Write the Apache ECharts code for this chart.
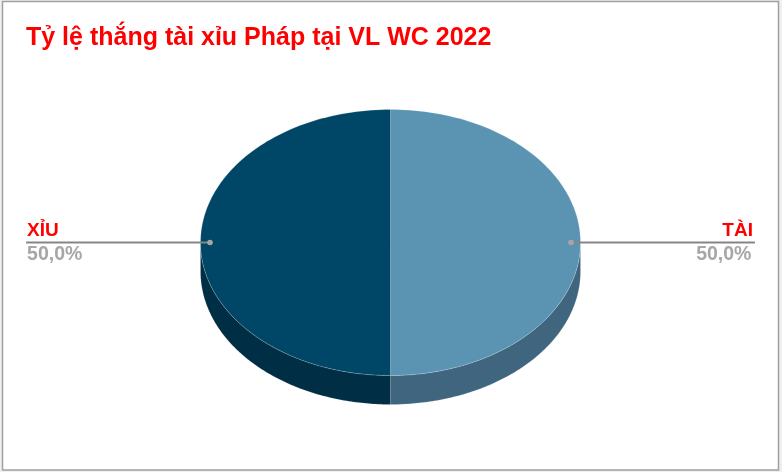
<!DOCTYPE html>
<html><head><meta charset="utf-8">
<style>html,body{margin:0;padding:0;background:#efefef}#c{width:782px;height:472px}</style>
<script src="https://cdn.jsdelivr.net/npm/echarts@6/dist/echarts.min.js"></script>
</head><body><div id="c"></div>
<script>
var titleText = 'Tỷ lệ thắng tài xỉu Pháp tại VL WC 2022';
var categories = ['TÀI', 'XỈU'];
var values = [50, 50];
var valueLabels = ['50,0%', '50,0%'];
var topColors = ['#5b93b2', '#004666'];
var wallColors = ['#40667f', '#002f45'];

var chart = echarts.init(document.getElementById('c'), null, {renderer: 'canvas'});
var total = values.reduce(function (a, b) { return a + b; }, 0);
var DEPTH = 29 / 133, STEPS = 120, RED = '#ff0000', GREY = '#a6a6a6', LINE = '#858585';
var FONT = '"Liberation Sans", Arial, sans-serif';

function rimPoint(api, t, drop) {
  // t: fraction of the circle clockwise from 12 o'clock
  var a = t * 2 * Math.PI;
  return api.coord([Math.sin(a), Math.cos(a) - (drop || 0)]);
}
function renderSlice(params, api) {
  var i = params.dataIndex, start = 0;
  for (var k = 0; k < i; k++) start += values[k] / total;
  var end = start + values[i] / total, mid = (start + end) / 2;
  var children = [];
  // side wall: only the front half of the disc (t in 0.25..0.75) shows
  var ws = Math.max(start, 0.25), we = Math.min(end, 0.75);
  if (we > ws) {
    var wall = [], n;
    for (n = 0; n <= STEPS; n++) wall.push(rimPoint(api, ws + (we - ws) * n / STEPS, 0));
    for (n = STEPS; n >= 0; n--) wall.push(rimPoint(api, ws + (we - ws) * n / STEPS, DEPTH));
    children.push({type: 'polygon', shape: {points: wall},
      style: {fill: wallColors[i], stroke: 'rgba(255,255,255,0.25)', lineWidth: 0.5}});
  }
  var top = [api.coord([0, 0])];
  for (var m = 0; m <= STEPS; m++) top.push(rimPoint(api, start + (end - start) * m / STEPS, 0));
  children.push({type: 'polygon', shape: {points: top},
    style: {fill: topColors[i], stroke: 'rgba(255,255,255,0.3)', lineWidth: 0.6}});
  // leader line, dot and labels
  var side = Math.sin(mid * 2 * Math.PI) >= 0 ? 1 : -1;
  var dot = api.coord([side * 0.95, 0]);
  var outer = api.coord([side * 1.918, 0]);
  children.push({type: 'line', shape: {x1: dot[0], y1: dot[1], x2: outer[0], y2: outer[1]},
    style: {stroke: LINE, lineWidth: 1.8}});
  children.push({type: 'circle', shape: {cx: dot[0], cy: dot[1], r: 2.8}, style: {fill: GREY}});
  var align = side > 0 ? 'right' : 'left';
  children.push({type: 'text', x: outer[0] + (side > 0 ? -2 : 1), y: outer[1] - 2,
    style: {text: categories[i], fill: RED, font: 'bold 19px ' + FONT, align: align, verticalAlign: 'bottom'}});
  children.push({type: 'text', x: outer[0] + (side > 0 ? -3.5 : 1), y: outer[1] + 2.5,
    style: {text: valueLabels[i], fill: GREY, font: 'bold 19.5px ' + FONT, align: align, verticalAlign: 'top'}});
  return {type: 'group', children: children};
}

chart.setOption({
  animation: false,
  backgroundColor: '#efefef',
  title: {text: titleText, left: 21, top: 20.5,
    textStyle: {color: RED, fontFamily: FONT, fontSize: 25, fontWeight: 'bold'}},
  graphic: [{type: 'rect', z: -10, silent: true,
    shape: {x: 2.5, y: 1.5, width: 776, height: 468.5},
    style: {fill: '#ffffff', stroke: '#a0a0a0', lineWidth: 1.5}}],
  grid: {left: 200.5, top: 109.5, width: 380, height: 266},
  xAxis: {type: 'value', min: -1, max: 1, show: false},
  yAxis: {type: 'value', min: -1, max: 1, show: false},
  series: [{
    type: 'custom', coordinateSystem: 'cartesian2d', clip: false, silent: true,
    renderItem: renderSlice,
    data: categories.map(function (c, i) { return {name: c, value: [0, 0, values[i]]}; })
  }]
});
</script></body></html>
